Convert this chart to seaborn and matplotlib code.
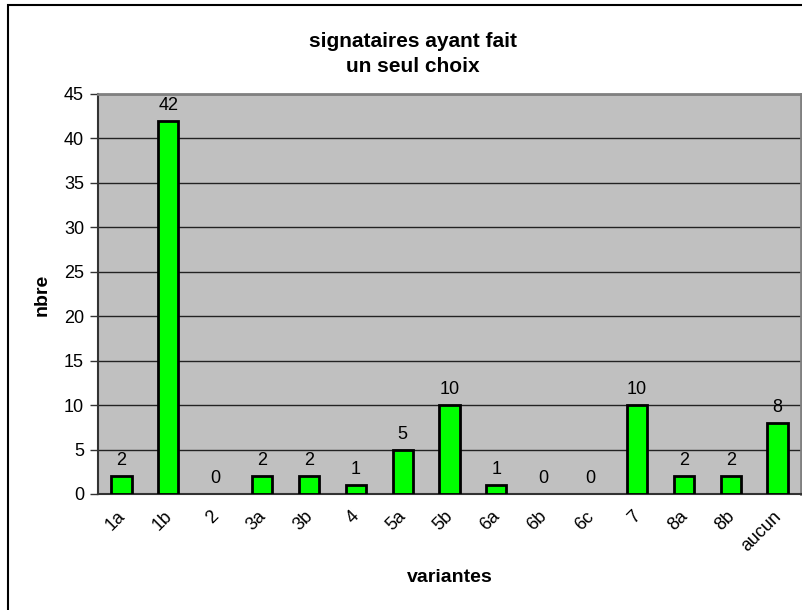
import matplotlib
matplotlib.use('Agg')
import matplotlib.pyplot as plt
import matplotlib.transforms as mtrans
import seaborn as sns
import pandas as pd
from matplotlib.patches import Rectangle

variantes = ['1a', '1b', '2', '3a', '3b', '4', '5a', '5b', '6a', '6b', '6c', '7', '8a', '8b', 'aucun']
nbre = [2, 42, 0, 2, 2, 1, 5, 10, 1, 0, 0, 10, 2, 2, 8]
yticks = [0, 5, 10, 15, 20, 25, 30, 35, 40, 45]

df = pd.DataFrame({'variantes': variantes, 'nbre': nbre})

sns.set_style('white')
plt.rcParams['font.family'] = ['Liberation Sans', 'DejaVu Sans']
plt.rcParams['text.color'] = 'black'
plt.rcParams['xtick.color'] = 'black'
plt.rcParams['ytick.color'] = 'black'

fig = plt.figure(figsize=(8.02, 6.10), dpi=100)
ax = fig.add_axes([98/802, 1-494/610, 703/802, 400/610])
ax.set_facecolor('#C0C0C0')

sns.barplot(data=df, x='variantes', y='nbre', color='#00FF00', width=0.43,
            edgecolor='black', linewidth=2, saturation=1, ax=ax, zorder=3)

# no outline on empty bars
for p in ax.patches:
    if p.get_height() == 0:
        p.set_linewidth(0)

for c in ax.containers:
    ax.bar_label(c, padding=5, fontsize=13, color='black')

ax.set_ylim(0, 45)
ax.set_xlim(-0.5, len(variantes) - 0.5)
ax.set_yticks(yticks)
ax.yaxis.grid(True, color='#222222', linewidth=1, zorder=0)
ax.set_axisbelow(True)

ax.set_xticks(range(len(variantes)))
ax.set_xticklabels(variantes, rotation=45, ha='right', rotation_mode='anchor', fontsize=13)
ax.tick_params(axis='x', which='major', length=0, pad=10)
shift = mtrans.ScaledTranslation(-5/100, 0, fig.dpi_scale_trans)
for lab in ax.get_xticklabels():
    lab.set_transform(lab.get_transform() + shift)
ax.set_xticks([i - 0.5 for i in range(len(variantes) + 1)], minor=True)
ax.tick_params(axis='x', which='minor', length=6, color='#333333', width=1, direction='out')
ax.tick_params(axis='y', length=6, color='#333333', width=1, direction='out', labelsize=13, left=True, pad=4)

for s in ['left', 'bottom']:
    ax.spines[s].set_color('#333333')
    ax.spines[s].set_linewidth(1.5)
for s in ['top', 'right']:
    ax.spines[s].set_color('#808080')
    ax.spines[s].set_linewidth(2)

ax.set_xlabel('')
ax.set_ylabel('')
fig.text(42/802, 1-295/610, 'nbre', rotation=90, ha='center', va='center', fontsize=14, fontweight='bold')
fig.text(450/802, 1-578/610, 'variantes', ha='center', va='center', fontsize=14, fontweight='bold')
fig.text(413/802, 1-54/610, 'signataires ayant fait\nun seul choix', ha='center', va='center',
         fontsize=15, fontweight='bold', linespacing=1.45)

fig.patches.append(Rectangle((8/802, -0.05), 1.0, 1 - 5/610 + 0.05, transform=fig.transFigure,
                             fill=False, edgecolor='black', linewidth=1.5))

fig.savefig('out.png', dpi=100)
